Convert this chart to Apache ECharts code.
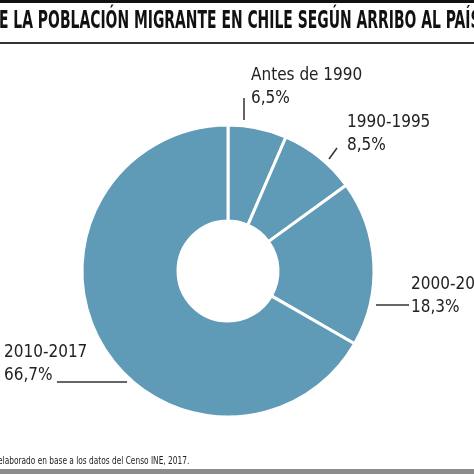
<!DOCTYPE html>
<html>
<head>
<meta charset="utf-8">
<script src="https://cdn.jsdelivr.net/npm/echarts@6/dist/echarts.min.js"></script>
<style>
html,body{margin:0;padding:0;background:#fff;}
#chart{width:474px;height:474px;}
</style>
</head>
<body>
<div id="chart"></div>
<script>
var periodos = ['Antes de 1990', '1990-1995', '2000-2009', '2010-2017'];
var porcentajes = [6.5, 8.5, 18.3, 66.7];
var titulo = 'E LA POBLACIÓN MIGRANTE EN CHILE SEGÚN ARRIBO AL PAÍS';
var fuente = 'elaborado en base a los datos del Censo INE, 2017.';

// where each label sits and how its leader line runs
var etiquetas = [
    {x:251, y:64, line:[[244,120],[244,98],[244,98]]},
    {x:347, y:111, line:[[329,159],[337,148],[337,148]]},
    {x:411, y:273, line:[[376,305],[409,305],[409,305]]},
    {x:4, y:341, line:[[127,382],[57,382],[57,382]]}
];

var fuenteCond = '"DejaVu Sans Condensed", "DejaVu Sans", sans-serif';

var chart = echarts.init(document.getElementById('chart'));
var datos = periodos.map(function(p, i){
    return {name:p, value:porcentajes[i]};
});
var option = {
    animation:false,
    graphic:[
        {type:'rect', shape:{x:0, y:0, width:474, height:3}, style:{fill:'#111'}},
        {type:'rect', shape:{x:0, y:42, width:474, height:2}, style:{fill:'#333'}},
        {type:'rect', shape:{x:0, y:469, width:474, height:5}, style:{fill:'#8c8c8c'}},
        {type:'text', x:-1, y:10, scaleX:0.645,
            style:{text:titulo, font:'bold 24px ' + fuenteCond, fill:'#111'}},
        {type:'text', x:-2, y:456, scaleX:0.75,
            style:{text:fuente, font:'11px ' + fuenteCond, fill:'#222'}}
    ],
    series:[{
        type:'pie',
        center:[228, 271],
        radius:[50, 146],
        startAngle:90,
        clockwise:true,
        silent:true,
        itemStyle:{
            color:'#5f9ab6',
            borderColor:'#fff',
            borderWidth:3
        },
        label:{
            show:true,
            fontFamily:fuenteCond,
            fontSize:17,
            lineHeight:23,
            color:'#222',
            overflow:'none',
            formatter:function(p){
                return p.name + '\n' + String(p.value).replace('.', ',') + '%';
            }
        },
        labelLine:{
            show:true,
            lineStyle:{color:'#333', width:1.5}
        },
        labelLayout:function(params){
            var e = etiquetas[params.dataIndex];
            return {
                x:e.x, y:e.y,
                align:'left', verticalAlign:'top',
                labelLinePoints:e.line
            };
        },
        data:datos
    }]
};
chart.setOption(option);
</script>
</body>
</html>
